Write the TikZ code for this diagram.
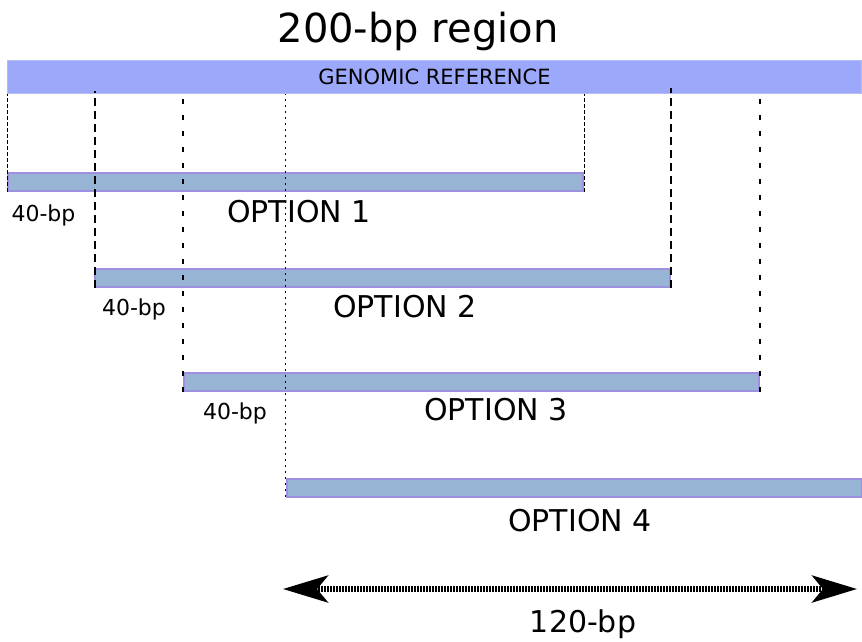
\documentclass[tikz,border=0pt]{standalone}
\usepackage{fontspec}
\setmainfont{DejaVu Sans}
\usetikzlibrary{arrows.meta}
\definecolor{reffill}{HTML}{9CA8F9}
\definecolor{refdraw}{HTML}{B4BCF2}
\definecolor{optfill}{HTML}{98B4D4}
\definecolor{optdraw}{HTML}{9D90E0}
\tikzset{
  refbar/.style={rectangle, fill=reffill, draw=refdraw, line width=1pt, minimum width=854pt, minimum height=33pt, inner sep=0pt, anchor=north west},
  optbar/.style={rectangle, fill=optfill, draw=optdraw, line width=2.2pt, minimum width=575pt, minimum height=18pt, inner sep=0pt, anchor=north west},
  lbl/.style={anchor=base, inner sep=0pt, font=\fontsize{30}{36}\selectfont},
  bplbl/.style={anchor=base, inner sep=0pt, font=\fontsize{22}{26}\selectfont},
  guideA/.style={line width=0.9pt, dash pattern=on 4pt off 2pt},
  guideB/.style={line width=1.8pt, dash pattern=on 8pt off 5pt},
  guideC/.style={line width=2.4pt, dash pattern=on 5pt off 11pt},
  guideD/.style={line width=0.9pt, dash pattern=on 2pt off 4pt},
}
\begin{document}
\begin{tikzpicture}[x=1pt,y=-1pt]
\useasboundingbox (0,0) rectangle (862,641);
\node[anchor=base, inner sep=0pt, font=\fontsize{40}{48}\selectfont] (title) at (418,42) {200-bp region};
\node[refbar, font=\fontsize{21}{25}\selectfont] (ref) at (7,60) {GENOMIC REFERENCE};
\node[optbar] (o1) at (7,172) {};
\node[optbar] (o2) at (94,268) {};
\node[optbar] (o3) at (183,372) {};
\node[optbar] (o4) at (286,478) {};
% guide lines
\draw[guideA] (o1.south west) -- (o1.south west |- ref.south);
\draw[guideA] (o1.south east) -- (o1.south east |- ref.south);
\draw[guideB] ([xshift=1pt]o2.south west) -- ([xshift=1pt,yshift=3pt]o2.south west |- ref.south);
\draw[guideB] (o2.south east) -- ([yshift=6pt]o2.south east |- ref.south);
\draw[guideC] (o3.south west) -- ([yshift=3pt]o3.south west |- ref.south);
\draw[guideC] (o3.south east) -- ([yshift=3pt]o3.south east |- ref.south);
\draw[guideD] ([xshift=-1pt,yshift=1pt]o4.south west) -- ([xshift=-1pt]o4.south west |- ref.south);
\draw[guideD] ([yshift=1pt]o4.south east) -- (o4.south east |- ref.south);
% labels
\node[bplbl] (b1) at (43.5,221) {40-bp};
\node[bplbl] (b2) at (134,315) {40-bp};
\node[bplbl] (b3) at (235,419) {40-bp};
\node[lbl] (l1) at (299,222) {OPTION 1};
\node[lbl] (l2) at (405,317) {OPTION 2};
\node[lbl] (l3) at (496,420) {OPTION 3};
\node[lbl] (l4) at (580,531) {OPTION 4};
% arrow
\coordinate (al) at (283,589);
\coordinate (ar) at (857,589);
\draw[line width=5.5pt, dash pattern=on 2pt off 1pt, {Stealth[length=45pt,width=27pt,inset=11pt]}-{Stealth[length=45pt,width=27pt,inset=11pt]}] (al) -- (ar);
\node[lbl] (l120) at (583,632) {120-bp};
\end{tikzpicture}
\end{document}
